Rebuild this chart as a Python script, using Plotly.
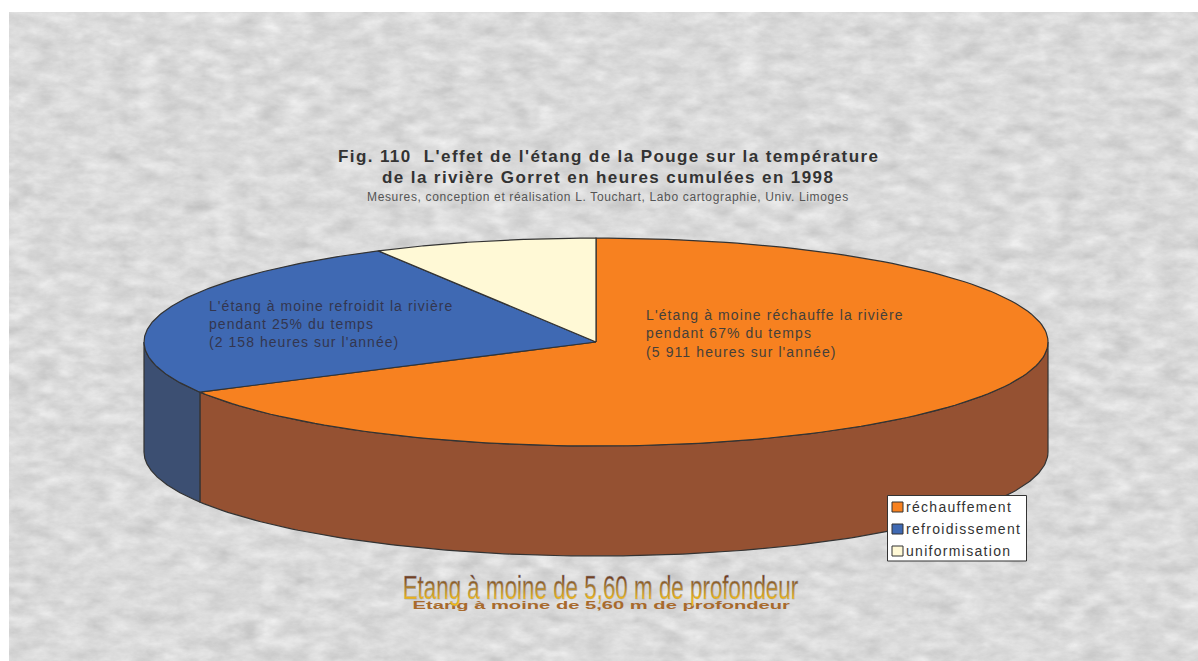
import base64
import numpy as np
import plotly.graph_objects as go

# Data (share of the year, percent, as stated in the labels)
categories = ["réchauffement", "refroidissement", "uniformisation"]
shares = [67, 25, 8]
top_colors = ["#F78120", "#3F69B3", "#FFF9D6"]
side_colors = ["#955132", "#3C4F72", "#B0A98A"]
title_lines = ["Fig. 110  L'effet de l'étang de la Pouge sur la température",
               "de la rivière Gorret en heures cumulées en 1998"]
subtitle = "Mesures, conception et réalisation L. Touchart, Labo cartographie, Univ. Limoges"
orange_label = ["L'étang à moine réchauffe la rivière", "pendant 67% du temps", "(5 911 heures sur l'année)"]
blue_label = ["L'étang à moine refroidit la rivière", "pendant 25% du temps", "(2 158 heures sur l'année)"]
wordart = "Etang à moine de 5,60 m de profondeur"

# Pie geometry in page pixels
CX, CY, RX, RY, DEPTH = 596, 342, 452, 104, 110
EDGE = "#333333"
FONT = "Liberation Sans"


def spaced(text, px, extra=""):
    return f'<span style="letter-spacing:{px}px;{extra}">{text}</span>'


def rim(a0, a1, n=160):
    """Points on the ellipse, angles clockwise from the top, in degrees."""
    a = np.radians(np.linspace(a0, a1, n))
    return CX + RX * np.sin(a), CY - RY * np.cos(a)


edges = np.concatenate([[0], np.cumsum(shares) / sum(shares) * 360])

fig = go.Figure()

# Visible side wall: front half of the disc, 90 to 270 degrees
for i, name in enumerate(categories):
    a0, a1 = max(edges[i], 90), min(edges[i + 1], 270)
    if a1 <= a0:
        continue
    x, y = rim(a0, a1)
    fig.add_trace(go.Scatter(
        x=np.concatenate([x, x[::-1], x[:1]]),
        y=np.concatenate([y, y[::-1] + DEPTH, y[:1]]),
        mode="lines", fill="toself", fillcolor=side_colors[i],
        line=dict(color=EDGE, width=1.2), hoverinfo="skip", showlegend=False))

# Top face
for i, name in enumerate(categories):
    x, y = rim(edges[i], edges[i + 1])
    fig.add_trace(go.Scatter(
        x=np.concatenate([[CX], x, [CX]]),
        y=np.concatenate([[CY], y, [CY]]),
        mode="lines", fill="toself", fillcolor=top_colors[i],
        line=dict(color=EDGE, width=1.2), name=name, showlegend=False))

annotations = []


def text(x, y, s, size, color="#333333", anchor="center", **kw):
    annotations.append(dict(x=x, y=y, xref="x", yref="y", text=s, showarrow=False, xanchor=anchor,
                            yanchor="middle", font=dict(size=size, color=color, family=FONT, **kw)))


text(608, 156, "<b>" + spaced(title_lines[0], 1.4) + "</b>", 17)
text(608, 177, "<b>" + spaced(title_lines[1], 1.4) + "</b>", 17)
text(608, 197, spaced(subtitle, 0.65), 12, "#555555")
for yy, line in zip([315, 333, 352], orange_label):
    text(644, yy, spaced(line, 1.1), 14, "#45403A", "left")
for yy, line in zip([306, 324, 342], blue_label):
    text(207, yy, spaced(line, 1.05), 14, "#33364F", "left")

# Legend box, swatches and labels
legend_y = [507, 529, 551]
shapes = [dict(type="rect", x0=887.5, x1=1026.5, y0=495.5, y1=561, layer="above",
               fillcolor="white", line=dict(color="#333333", width=1))]
for yy, col in zip(legend_y, top_colors):
    shapes.append(dict(type="rect", x0=892, x1=903, y0=yy - 5, y1=yy + 5, layer="above",
                       fillcolor=col, line=dict(color="#333333", width=1)))
for yy, name in zip(legend_y, categories):
    text(904, yy, spaced(name, 1.3), 14, "#333333", "left")

# Word-art caption and its flattened shadow (scaled in the page by the script below)
text(601, 606, "<b>" + wordart + "</b>", 20, "#A86A2C")
text(600, 587, spaced(wordart, 0, "fill:url(#wa);stroke:#9a9a9a;stroke-width:0.35px"), 35, "#D8A526")

# Mottled paper background, as an SVG noise filter
svg = """<svg xmlns='http://www.w3.org/2000/svg' width='1189' height='649'>
<filter id='n' x='0' y='0' width='100%' height='100%' color-interpolation-filters='sRGB'>
<feTurbulence type='fractalNoise' baseFrequency='0.04 0.08' numOctaves='6' seed='7'/>
<feColorMatrix type='matrix' values='0.13 0.13 0 0 0.725  0.13 0.13 0 0 0.725  0.13 0.13 0 0 0.725  0 0 0 0 1'/>
</filter>
<rect width='1189' height='649' filter='url(#n)'/></svg>"""
uri = "data:image/svg+xml;base64," + base64.b64encode(svg.encode()).decode()

fig.update_layout(
    width=1198, height=661, margin=dict(l=0, r=0, t=0, b=0),
    paper_bgcolor="white", plot_bgcolor="rgba(0,0,0,0)", showlegend=False,
    xaxis=dict(range=[0, 1198], visible=False, fixedrange=True),
    yaxis=dict(range=[661, 0], visible=False, fixedrange=True),
    annotations=annotations, shapes=shapes,
    images=[dict(source=uri, xref="x", yref="y", x=9, y=12, sizex=1189, sizey=649, sizing="stretch",
                 xanchor="left", yanchor="top", layer="below")],
)

post = """
document.body.style.margin = '0';
var svg = document.querySelector('.main-svg');
var ns = 'http://www.w3.org/2000/svg';
var defs = document.createElementNS(ns, 'defs');
defs.innerHTML = '<linearGradient id="wa" x1="0" y1="0" x2="0" y2="1">' +
  '<stop offset="0.2" stop-color="#6E3A20"/><stop offset="0.55" stop-color="#B98A2E"/>' +
  '<stop offset="0.8" stop-color="#F2B815"/></linearGradient>';
svg.appendChild(defs);
document.querySelectorAll('.annotation-text').forEach(function (t) {
  if (t.textContent.indexOf('Etang') !== 0) return;
  var big = t.innerHTML.indexOf('url(') >= 0;
  var b = t.getBBox(), cx = b.x + b.width / 2, cy = b.y + b.height / 2;
  var sx = (big ? 396 : 378) / b.width, sy = big ? 0.95 : 0.5;
  t.setAttribute('transform', 'translate(' + cx + ' ' + cy + ') scale(' + sx + ' ' + sy + ') translate(' + (-cx) + ' ' + (-cy) + ')');
});
"""
fig.write_html("out.html", post_script=post, config=dict(displayModeBar=False))
